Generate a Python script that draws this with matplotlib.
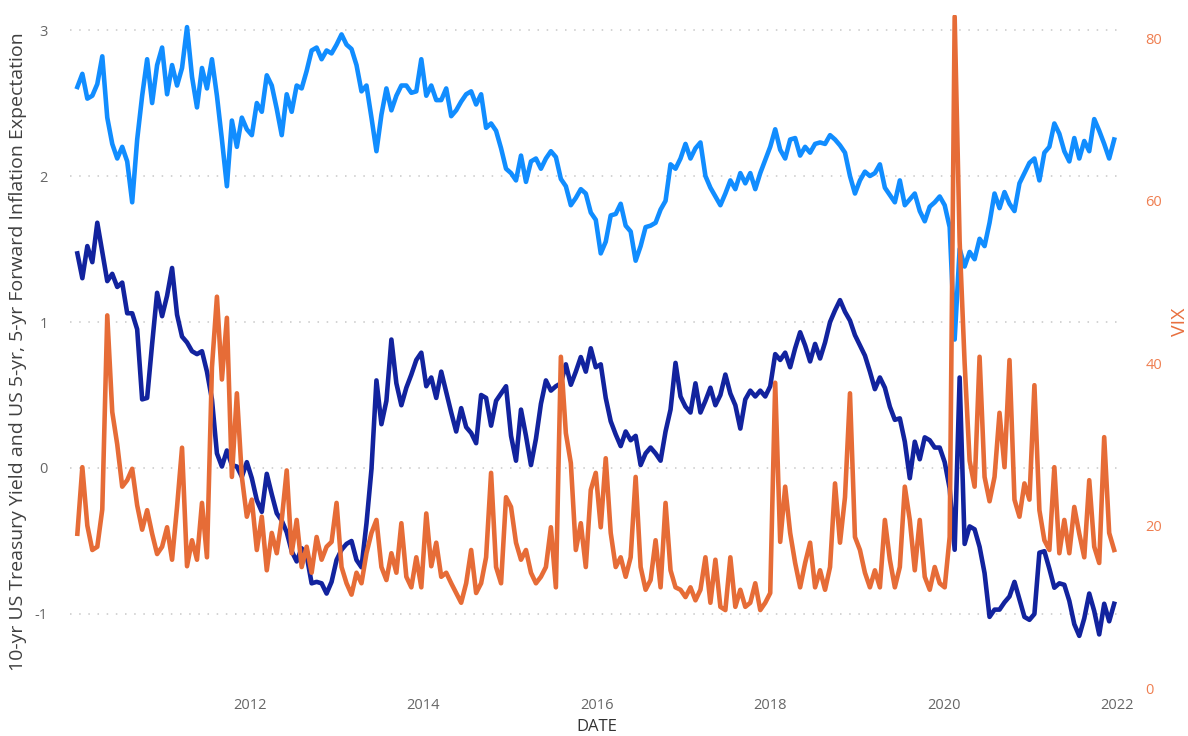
import numpy as np
import pandas as pd
import matplotlib
matplotlib.use('Agg')
import matplotlib.pyplot as plt

plt.rcParams['font.family'] = ['Open Sans', 'DejaVu Sans']
plt.rcParams['axes.unicode_minus'] = False

# values, one point every 21 days from 2010-01-04
inflation_5y5y = [
    2.61, 2.70, 2.53, 2.55, 2.63, 2.82, 2.40, 2.22, 2.12, 2.20,
    2.10, 1.82, 2.25, 2.55, 2.80, 2.50, 2.76, 2.88, 2.56, 2.76,
    2.62, 2.74, 3.02, 2.68, 2.47, 2.74, 2.60, 2.80, 2.55, 2.25,
    1.93, 2.38, 2.20, 2.40, 2.32, 2.28, 2.50, 2.44, 2.69, 2.62,
    2.46, 2.28, 2.56, 2.44, 2.62, 2.60, 2.72, 2.86, 2.88, 2.80,
    2.86, 2.84, 2.90, 2.97, 2.90, 2.87, 2.76, 2.58, 2.62, 2.40,
    2.17, 2.42, 2.60, 2.45, 2.55, 2.62, 2.62, 2.57, 2.58, 2.80,
    2.55, 2.62, 2.52, 2.52, 2.60, 2.41, 2.45, 2.51, 2.56, 2.58,
    2.49, 2.56, 2.33, 2.36, 2.31, 2.19, 2.05, 2.02, 1.97, 2.14,
    1.96, 2.10, 2.12, 2.05, 2.12, 2.17, 2.13, 1.98, 1.93, 1.80,
    1.85, 1.91, 1.88, 1.75, 1.70, 1.47, 1.55, 1.73, 1.74, 1.81,
    1.66, 1.62, 1.42, 1.52, 1.65, 1.66, 1.68, 1.77, 1.83, 2.08,
    2.05, 2.12, 2.22, 2.12, 2.19, 2.23, 2.00, 1.92, 1.86, 1.80,
    1.88, 1.97, 1.91, 2.02, 1.95, 2.02, 1.91, 2.02, 2.11, 2.20,
    2.32, 2.18, 2.12, 2.25, 2.26, 2.14, 2.20, 2.16, 2.22, 2.23,
    2.22, 2.28, 2.25, 2.21, 2.16, 2.00, 1.88, 1.97, 2.03, 2.00,
    2.02, 2.08, 1.92, 1.87, 1.82, 1.97, 1.80, 1.84, 1.88, 1.76,
    1.69, 1.79, 1.82, 1.86, 1.80, 1.65, 0.88, 1.50, 1.38, 1.48,
    1.43, 1.57, 1.52, 1.68, 1.88, 1.78, 1.89, 1.81, 1.76, 1.95,
    2.02, 2.09, 2.12, 1.97, 2.16, 2.20, 2.36, 2.29, 2.17, 2.10,
    2.26, 2.12, 2.24, 2.17, 2.39, 2.31, 2.22, 2.12, 2.25,
]

yield_10y = [
    1.47, 1.30, 1.52, 1.41, 1.68, 1.48, 1.28, 1.33, 1.24, 1.27,
    1.06, 1.06, 0.95, 0.47, 0.48, 0.85, 1.20, 1.04, 1.18, 1.37,
    1.05, 0.90, 0.86, 0.80, 0.78, 0.80, 0.66, 0.47, 0.10, 0.01,
    0.12, 0.02, 0.01, -0.06, 0.04, -0.07, -0.22, -0.30, -0.04, -0.18,
    -0.31, -0.36, -0.44, -0.57, -0.64, -0.55, -0.60, -0.79, -0.78, -0.79,
    -0.86, -0.78, -0.63, -0.56, -0.52, -0.50, -0.63, -0.68, -0.38, -0.01,
    0.60, 0.30, 0.46, 0.88, 0.58, 0.43, 0.55, 0.64, 0.74, 0.79,
    0.56, 0.62, 0.48, 0.66, 0.52, 0.38, 0.25, 0.41, 0.28, 0.24,
    0.17, 0.50, 0.48, 0.29, 0.46, 0.51, 0.56, 0.22, 0.05, 0.40,
    0.22, 0.02, 0.20, 0.44, 0.60, 0.53, 0.56, 0.58, 0.71, 0.57,
    0.66, 0.76, 0.66, 0.82, 0.69, 0.71, 0.48, 0.32, 0.23, 0.15,
    0.25, 0.19, 0.22, 0.02, 0.10, 0.14, 0.10, 0.05, 0.25, 0.40,
    0.72, 0.49, 0.42, 0.38, 0.58, 0.38, 0.46, 0.55, 0.43, 0.50,
    0.64, 0.51, 0.43, 0.27, 0.47, 0.53, 0.49, 0.53, 0.49, 0.56,
    0.78, 0.74, 0.79, 0.69, 0.82, 0.93, 0.84, 0.73, 0.85, 0.75,
    0.86, 1.00, 1.08, 1.15, 1.07, 1.01, 0.91, 0.84, 0.77, 0.66,
    0.54, 0.62, 0.55, 0.42, 0.33, 0.34, 0.18, -0.07, 0.18, 0.06,
    0.21, 0.19, 0.14, 0.14, 0.04, -0.14, -0.56, 0.62, -0.52, -0.40,
    -0.42, -0.54, -0.72, -1.02, -0.97, -0.97, -0.92, -0.88, -0.78, -0.90,
    -1.02, -1.04, -1.00, -0.58, -0.57, -0.69, -0.82, -0.79, -0.80, -0.91,
    -1.07, -1.15, -1.03, -0.86, -0.98, -1.14, -0.93, -1.05, -0.93,
]

vix = [
    19.0, 27.2, 20.0, 17.0, 17.4, 22.0, 45.9, 34.0, 30.0, 24.8,
    25.6, 27.0, 22.5, 19.5, 21.9, 19.0, 16.5, 17.4, 19.8, 15.8,
    22.3, 29.6, 15.0, 18.2, 15.8, 22.8, 16.1, 39.5, 48.2, 38.0,
    45.6, 26.0, 36.3, 26.0, 21.1, 23.2, 17.0, 21.1, 14.5, 19.1,
    16.6, 20.7, 26.8, 16.6, 20.7, 14.9, 17.4, 14.2, 18.6, 15.8,
    17.4, 18.0, 22.8, 14.9, 12.9, 11.5, 14.2, 12.9, 16.6, 19.1,
    20.7, 14.9, 13.3, 16.6, 14.2, 20.3, 13.7, 12.4, 16.1, 12.4,
    21.5, 15.0, 17.9, 13.7, 14.2, 12.9, 11.7, 10.5, 12.9, 17.0,
    11.7, 12.9, 16.1, 26.5, 14.9, 12.9, 23.5, 22.3, 17.9, 15.8,
    17.0, 14.2, 12.9, 13.7, 14.9, 19.8, 12.4, 40.8, 31.4, 27.7,
    17.0, 20.3, 14.9, 24.4, 26.5, 19.8, 28.3, 19.1, 14.9, 16.1,
    13.7, 16.1, 26.0, 14.9, 12.1, 13.3, 18.2, 12.4, 22.8, 14.5,
    12.4, 12.1, 11.2, 12.4, 10.8, 12.1, 16.1, 10.5, 15.8, 10.0,
    9.6, 16.1, 10.0, 12.1, 10.0, 10.5, 12.9, 9.6, 10.5, 11.7,
    37.6, 18.0, 24.8, 19.1, 15.4, 12.4, 15.4, 17.9, 12.4, 14.5,
    12.1, 14.9, 25.2, 17.9, 23.5, 36.3, 18.6, 17.0, 14.2, 12.4,
    14.5, 12.4, 20.7, 15.8, 12.4, 14.9, 24.8, 20.7, 14.5, 20.7,
    13.7, 12.1, 14.9, 12.9, 12.4, 18.6, 82.7, 55.0, 40.0, 28.0,
    24.8, 40.8, 26.0, 23.0, 26.0, 33.9, 27.2, 40.4, 23.2, 21.1,
    25.2, 23.2, 37.3, 21.9, 18.2, 17.0, 27.2, 16.6, 20.7, 16.6,
    22.3, 19.0, 16.1, 25.6, 17.4, 15.4, 30.9, 19.1, 17.0,
]

dates = pd.date_range('2010-01-04', periods=len(vix), freq='21D')

left_ticks = [-1, 0, 1, 2, 3]
right_ticks = [0, 20, 40, 60, 80]
year_ticks = [2012, 2014, 2016, 2018, 2020, 2022]

W, H = 1188, 736
fig = plt.figure(figsize=(W / 100, H / 100), dpi=100)
ax = fig.add_axes([70 / W, 1 - 688 / H, 1052 / W, 673 / H])
ax2 = ax.twinx()

ax.plot(dates, inflation_5y5y, color='#118DFF', lw=3.3, solid_joinstyle='round')
ax.plot(dates, yield_10y, color='#12239E', lw=3.3, solid_joinstyle='round')
ax2.plot(dates, vix, color='#E66C37', lw=3.3, solid_joinstyle='round')

ax.set_xlim(pd.Timestamp('2009-12-04'), pd.Timestamp('2022-01-22'))
ax.set_ylim(-1.507, 3.103)
ax2.set_ylim(0, 82.9)

ax.set_xticks([pd.Timestamp(f'{y}-01-01') for y in year_ticks])
ax.set_xticklabels([str(y) for y in year_ticks])
ax.set_yticks(left_ticks)
ax.set_yticklabels([str(t) for t in left_ticks])
ax2.set_yticks(right_ticks)
ax2.set_yticklabels([str(t) for t in right_ticks])

ax.yaxis.grid(True, color='#C8C8C8', linestyle=(0, (1, 5)), lw=1.1)
ax.set_axisbelow(True)

for a in (ax, ax2):
    for s in a.spines.values():
        s.set_visible(False)

ax.tick_params(axis='y', length=0, pad=16, labelsize=10.5, labelcolor='#666666')
ax.tick_params(axis='x', length=0, pad=7, labelsize=10.5, labelcolor='#666666')
ax2.tick_params(axis='y', length=0, pad=17, labelsize=10.5, labelcolor='#EF7E50')

ax.set_ylabel('10-yr US Treasury Yield and US 5-yr, 5-yr Forward Inflation Expectation',
              fontsize=14, color='#404040', va='center')
ax.yaxis.set_label_coords(-0.0495, 0.50)
ax2.set_ylabel('VIX', fontsize=14, color='#E8703F', rotation=90, va='center')
ax2.yaxis.set_label_coords(1.055, 0.544)
ax.set_xlabel('DATE', fontsize=12, color='#333333', va='center')
ax.xaxis.set_label_coords(0.501, -0.058)

fig.savefig('out.png', dpi=100)
